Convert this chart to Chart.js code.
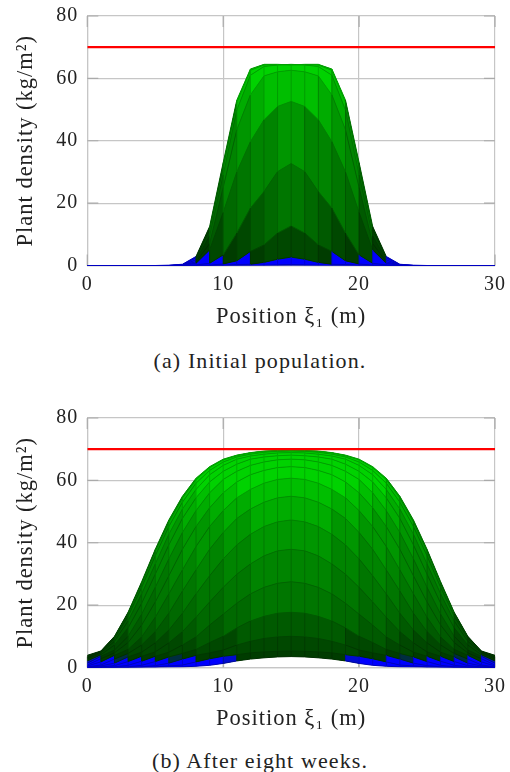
<!DOCTYPE html>
<html lang="en">
<head>
    <meta charset="UTF-8">
    <title>Plant density</title>
    <style>
        body { margin: 0; background: white; width: 510px; height: 772px; overflow: hidden; position: relative; }
        canvas { position: absolute; left: 0; }
        #chartA { top: 0; }
        #chartB { top: 402px; }
        .caption {
            position: absolute; left: 0; width: 520px; text-align: center;
            font-family: "Liberation Serif", serif; font-size: 22px; letter-spacing: 1.1px; color: #222;
        }
    </style>
</head>
<body>
    <canvas id="chartA" width="510" height="340"></canvas>
    <div class="caption" style="top: 348px">(a) Initial population.</div>
    <canvas id="chartB" width="510" height="340"></canvas>
    <div class="caption" style="top: 748px">(b) After eight weeks.</div>

    <script src="https://cdn.jsdelivr.net/npm/chart.js"></script>
    <script>
        const positions = [0,1,2,3,4,5,6,7,8,9,10,11,12,13,14,15,16,17,18,19,20,21,22,23,24,25,26,27,28,29,30];
        const xTicks = [0, 10, 20, 30];
        const yTicks = [0, 20, 40, 60, 80];
        const maxDensity = [70, 70];

        // one row per mesh line
        const initialRows = [
            [0,0,0,0,0,0,0.1,0.4,2.9,12.5,33,53,63,64.5,64.5,64.3,64.5,64.5,63,53,33,12.5,2.9,0.4,0.1,0,0,0,0,0,0],
            [0,0,0,0,0,0,0,0.3,2.5,11.5,31.5,52.4,62.6,64.3,64.4,64.4,64.4,64.3,62.6,52.4,31.5,11.5,2.5,0.3,0,0,0,0,0,0,0],
            [0,0,0,0,0,0,0,0.2,1.8,9.5,29,49.8,61,63.8,64.3,64.5,64.3,63.8,61,49.8,29,9.5,1.8,0.2,0,0,0,0,0,0,0],
            [0,0,0,0,0,0,0,0.1,1.2,7,25,43.5,54.7,60.8,62.1,62.6,62.1,60.8,54.7,43.5,25,7,1.2,0.1,0,0,0,0,0,0,0],
            [0,0,0,0,0,0,0,0.1,0.7,5,17,30,39.7,46.7,51,52.6,51,46.7,39.7,30,17,5,0.7,0.1,0,0,0,0,0,0,0],
            [0,0,0,0,0,0,0,0,0.2,0.7,3.4,10.4,18.4,23.7,30.1,32.7,30.1,23.7,18.4,10.4,3.4,0.7,0.2,0,0,0,0,0,0,0,0],
            [0,0,0,0,0,0,0,0,0,0.1,0.5,1.5,4.5,6.6,10.4,12.7,10.4,6.6,4.5,1.5,0.5,0.1,0,0,0,0,0,0,0,0,0],
            [0,0,0,0,0,0,0,0,0,0,0.1,0.3,0.4,1,2,2.7,2,1,0.4,0.3,0.1,0,0,0,0,0,0,0,0,0,0],
            [0,0,0,0,0,0,0,0,0,0,0,0,0.05,0.1,0.2,0.3,0.2,0.1,0.05,0,0,0,0,0,0,0,0,0,0,0,0],
            [0,0,0,0,0,0,0,0,0,0,0,0,0,0,0,0,0,0,0,0,0,0,0,0,0,0,0,0,0,0,0]
        ];
        const weekEightRows = [
            [3.9,5.3,10,17.7,27.5,37.9,47.3,54.9,60.7,64.4,66.8,68.1,68.9,69.4,69.6,69.7,69.6,69.4,68.9,68.1,66.8,64.4,60.7,54.9,47.3,37.9,27.5,17.7,10,5.3,3.9],
            [3.3,5.2,9.8,17.4,27,37.4,46.7,54.4,60.3,64.1,66.6,67.9,68.8,69.3,69.5,69.6,69.5,69.3,68.8,67.9,66.6,64.1,60.3,54.4,46.7,37.4,27,17.4,9.8,5.2,3.3],
            [3.1,5,9.3,16.4,25.7,35.8,45.2,53,59.1,63.2,65.9,67.5,68.4,69,69.3,69.4,69.3,69,68.4,67.5,65.9,63.2,59.1,53,45.2,35.8,25.7,16.4,9.3,5,3.1],
            [2.7,4.7,8.4,14.9,23.6,33.2,42.7,50.8,57.1,61.8,64.8,66.8,67.8,68.4,68.8,68.9,68.8,68.4,67.8,66.8,64.8,61.8,57.1,50.8,42.7,33.2,23.6,14.9,8.4,4.7,2.7],
            [2.1,4.1,7.2,12.7,20.6,29.9,39.3,47.8,54.4,59.5,62.9,65.2,66.8,67.5,67.9,68.1,67.9,67.5,66.8,65.2,62.9,59.5,54.4,47.8,39.3,29.9,20.6,12.7,7.2,4.1,2.1],
            [1.4,3.6,5.6,10,17.1,25.7,34.8,43.3,50.3,56,60.3,62.9,64.8,65.9,66.6,66.8,66.6,65.9,64.8,62.9,60.3,56,50.3,43.3,34.8,25.7,17.1,10,5.6,3.6,1.4],
            [0.8,2.8,4.7,8,13.6,21,29.4,37.9,45.2,51.2,56,59.5,61.8,63.2,64.1,64.4,64.1,63.2,61.8,59.5,56,51.2,45.2,37.9,29.4,21,13.6,8,4.7,2.8,0.8],
            [0.5,1.8,3.9,5.8,9.8,16.1,23.6,31.3,38.8,45.2,50.3,54.4,57.1,59.1,60.3,60.7,60.3,59.1,57.1,54.4,50.3,45.2,38.8,31.3,23.6,16.1,9.8,5.8,3.9,1.8,0.5],
            [0.2,0.8,2.7,4.5,7.2,11.5,17.4,24.5,31.3,37.9,43.3,47.8,50.8,53,54.4,54.9,54.4,53,50.8,47.8,43.3,37.9,31.3,24.5,17.4,11.5,7.2,4.5,2.7,0.8,0.2],
            [0.15,0.5,1.4,3.4,4.9,7.9,12,17.4,23.6,29.4,34.8,39.3,42.7,45.2,46.7,47.3,46.7,45.2,42.7,39.3,34.8,29.4,23.6,17.4,12,7.9,4.9,3.4,1.4,0.5,0.15],
            [0.1,0.2,0.6,1.9,3.6,5,7.9,11.5,16.1,21,25.7,29.9,33.2,35.8,37.4,37.9,37.4,35.8,33.2,29.9,25.7,21,16.1,11.5,7.9,5,3.6,1.9,0.6,0.2,0.1],
            [0.1,0.1,0.2,0.7,2,3.6,4.9,7.2,9.8,13.6,17.1,20.6,23.6,25.7,27,27.5,27,25.7,23.6,20.6,17.1,13.6,9.8,7.2,4.9,3.6,2,0.7,0.2,0.1,0.1],
            [0,0.1,0.1,0.2,0.7,1.9,3.4,4.5,5.8,8,10,12.7,14.9,16.4,17.4,17.7,17.4,16.4,14.9,12.7,10,8,5.8,4.5,3.4,1.9,0.7,0.2,0.1,0.1,0],
            [0,0,0.1,0.1,0.2,0.6,1.4,2.7,3.9,4.7,5.6,7.2,8.4,9.3,9.8,10,9.8,9.3,8.4,7.2,5.6,4.7,3.9,2.7,1.4,0.6,0.2,0.1,0.1,0,0],
            [0,0,0,0.1,0.1,0.2,0.5,0.8,1.8,2.8,3.6,4.1,4.7,5,5.2,5.3,5.2,5,4.7,4.1,3.6,2.8,1.8,0.8,0.5,0.2,0.1,0.1,0,0,0],
            [0,0,0,0,0.1,0.1,0.15,0.2,0.4,0.7,1.3,2.1,2.7,3.1,3.4,3.5,3.4,3.1,2.7,2.1,1.3,0.7,0.4,0.2,0.15,0.1,0.1,0,0,0,0]
        ];

        // stepped green colormap, blue below the lowest step
        const greenLimits = [5, 9, 14, 20, 28, 38, 47, 54, 57.7];
        const greenLevels = [60, 72, 90, 105, 118, 132, 150, 172, 190, 210];

        function cellShade(v) {
            if (v < 2.7) return [0, 0, 255];
            if (v < 3.1) {
                const t = (v - 2.7) / 0.4;
                return [0, 60 * t, 255 * (1 - t)];
            }
            let i = 0;
            while (i < greenLimits.length && v >= greenLimits[i]) i++;
            return [0, greenLevels[i], 0];
        }

        function cellValue(rows, r, i) {
            return (rows[r - 1][i] + rows[r - 1][i + 1] + rows[r][i] + rows[r][i + 1]) / 4;
        }

        function css(c, f) {
            return `rgb(${c[0] * f}, ${c[1] * f}, ${c[2] * f})`;
        }

        // short darker marks over the grid, pgfplots style
        const tickMarks = {
            id: 'tickMarks',
            beforeDraw(chart) {
                chart.ctx.letterSpacing = '1px';
            },
            beforeDatasetsDraw(chart) {
                const { ctx, scales: { x, y } } = chart;
                ctx.save();
                ctx.strokeStyle = '#aaaaaa';
                ctx.lineWidth = 1.2;
                ctx.beginPath();
                yTicks.forEach(t => {
                    const p = y.getPixelForValue(t);
                    ctx.moveTo(x.left, p); ctx.lineTo(x.left + 11, p);
                    ctx.moveTo(x.right, p); ctx.lineTo(x.right - 11, p);
                });
                xTicks.forEach(t => {
                    const p = x.getPixelForValue(t);
                    ctx.moveTo(p, y.bottom); ctx.lineTo(p, y.bottom - 11);
                    ctx.moveTo(p, y.top); ctx.lineTo(p, y.top + 11);
                });
                ctx.stroke();
                ctx.restore();
            }
        };

        function drawSurface(id, rows) {
            const datasets = [];
            // a long dash keeps Chart.js off its fast path, which rounds x to whole pixels
            const solid = [4000];
            rows.forEach((row, r) => {
                datasets.push({
                    data: row.map((v, i) => ({ x: positions[i], y: v })),
                    fill: r === 0 ? false : '-1',
                    borderWidth: 1,
                    borderDash: solid,
                    pointRadius: 0,
                    tension: 0,
                    order: 1,
                    segment: {
                        backgroundColor: c => r === 0 ? 'transparent' : css(cellShade(cellValue(rows, r, c.p0DataIndex)), 1),
                        borderColor: c => css(cellShade(cellValue(rows, r === 0 ? 1 : r, c.p0DataIndex)), 0.76)
                    }
                });
            });
            positions.forEach((p, i) => {
                // the vertical mesh edge takes the tint of the cell on its right
                const col = Math.min(i, positions.length - 2);
                datasets.push({
                    data: rows.map(row => ({ x: p, y: row[i] })),
                    fill: false,
                    borderWidth: 1,
                    borderDash: solid,
                    pointRadius: 0,
                    tension: 0,
                    order: 0,
                    segment: {
                        borderColor: c => css(cellShade(cellValue(rows, c.p1DataIndex, col)), 0.82)
                    }
                });
            });
            // one plain band under the cells, so their clip seams do not show white
            datasets.push({
                data: rows[0].map((v, i) => ({ x: positions[i], y: v })),
                fill: false,
                borderWidth: 0,
                pointRadius: 0,
                order: 2
            });
            datasets.push({
                data: rows[rows.length - 1].map((v, i) => ({ x: positions[i], y: v })),
                fill: '-1',
                backgroundColor: 'rgb(0, 90, 0)',
                borderWidth: 0,
                pointRadius: 0,
                order: 2
            });
            datasets.push({
                data: [{ x: positions[0], y: maxDensity[0] }, { x: positions[30], y: maxDensity[1] }],
                fill: false,
                borderColor: 'rgb(255, 0, 0)',
                borderWidth: 2.2,
                pointRadius: 0,
                order: -1
            });

            new Chart(document.getElementById(id), {
                type: 'line',
                data: { datasets },
                plugins: [tickMarks],
                options: {
                    responsive: false,
                    animation: false,
                    events: [],
                    normalized: true,
                    layout: { padding: { top: 16, right: 15, left: 13, bottom: 9.5 } },
                    plugins: { legend: { display: false }, tooltip: { enabled: false } },
                    scales: {
                        x: {
                            type: 'linear', min: 0, max: 30,
                            afterFit: s => { s.height = 65; s.paddingLeft = 0; s.paddingRight = 0; },
                            afterBuildTicks: s => { s.ticks = xTicks.map(v => ({ value: v })); },
                            grid: { color: '#c6c6c6', lineWidth: 1.2, drawTicks: false },
                            border: { color: '#c6c6c6', width: 1.2 },
                            ticks: { padding: 7, maxRotation: 0, color: '#222', font: { family: 'Liberation Serif', size: 20 } },
                            title: { display: true, text: 'Position ξ₁ (m)', color: '#222', padding: 0, font: { family: 'Liberation Serif', size: 22.5 } }
                        },
                        y: {
                            min: 0, max: 80,
                            afterFit: s => { s.width = 74.3; s.paddingTop = 0; s.paddingBottom = 0; },
                            afterBuildTicks: s => { s.ticks = yTicks.map(v => ({ value: v })); },
                            grid: { color: '#c6c6c6', lineWidth: 1.2, drawTicks: false },
                            border: { color: '#c6c6c6', width: 1.2 },
                            ticks: { padding: 9, color: '#222', font: { family: 'Liberation Serif', size: 20 } },
                            title: { display: true, text: 'Plant density (kg/m²)', color: '#222', padding: 0, font: { family: 'Liberation Serif', size: 22.5 } }
                        }
                    }
                }
            });
        }

        drawSurface('chartA', initialRows);
        drawSurface('chartB', weekEightRows);
    </script>
</body>
</html>
